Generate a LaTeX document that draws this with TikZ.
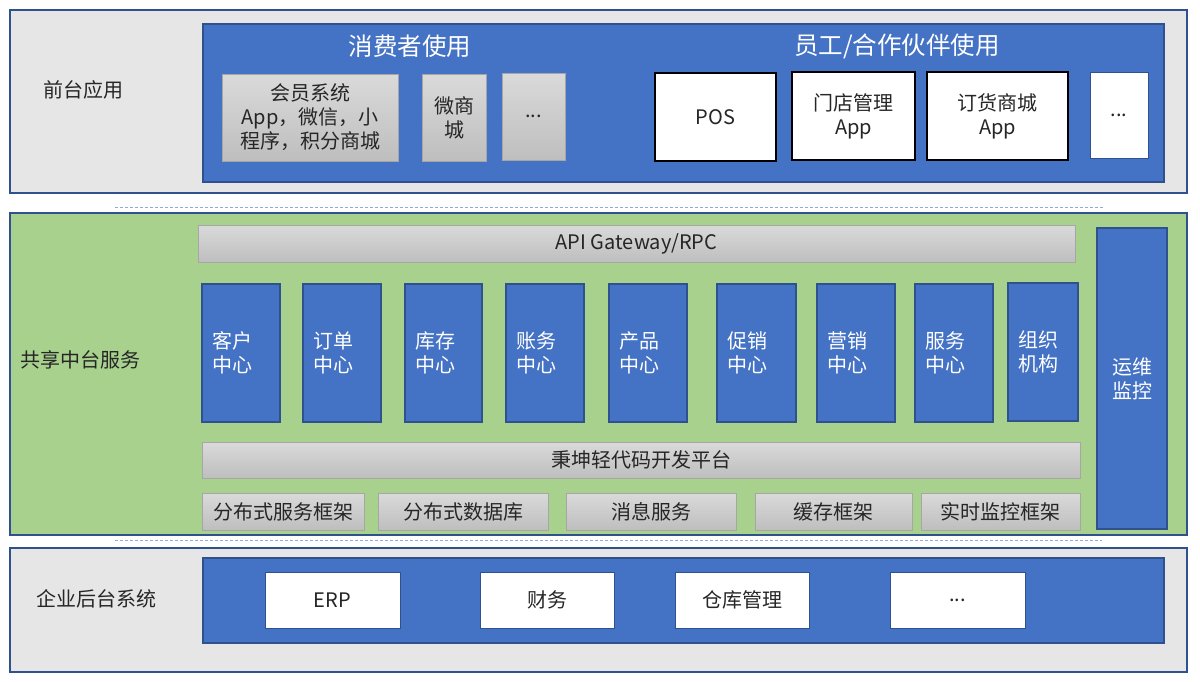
\documentclass[tikz,border=0pt]{standalone}
\usepackage{fontspec}
\setmainfont{Noto Sans CJK SC}
\definecolor{blu}{HTML}{4472C4}
\definecolor{bord}{HTML}{2F528F}
\definecolor{lgray}{HTML}{E7E6E6}
\definecolor{grn}{HTML}{A9D18E}
\definecolor{dashc}{HTML}{8FAADC}
\definecolor{txt}{HTML}{262626}
\definecolor{gtop}{HTML}{DADADA}
\definecolor{gbot}{HTML}{BEBEBE}
\definecolor{gbord}{HTML}{A6A6A6}
\tikzset{
  every node/.style={inner sep=0pt, outer sep=0pt, anchor=north west, text=txt},
  fnt/.style={font=\fontsize{20}{24}\selectfont},
  panel/.style={draw=bord, line width=1.5pt},
  bluepanel/.style={fill=blu, draw=bord, line width=1.2pt},
  graybox/.style={fnt, top color=gtop, bottom color=gbot, draw=gbord, line width=1pt, align=center},
  whitebox/.style={fnt, fill=white, draw=black, line width=1.6pt, align=center},
  wbox/.style={fnt, fill=white, draw=bord, line width=1pt, align=center},
  svc/.style={fnt, fill=blu, draw=bord, line width=1.2pt, text=white, align=left, inner xsep=10pt, minimum height=138pt},
  title/.style={font=\fontsize{24.5}{28}\selectfont, text=white, anchor=center},
  lbl/.style={fnt, anchor=center},
  sep/.style={draw=dashc, line width=1pt, dash pattern=on 3pt off 2pt},
}
\begin{document}
\begin{tikzpicture}[x=1pt,y=-1pt]
\useasboundingbox (0,0) rectangle (1200,681);
% ---------- top layer ----------
\node[panel, fill=lgray, minimum width=1177pt, minimum height=183pt] (front) at (10,10) {};
\node[lbl] (frontlbl) at (83,90) {前台应用};
\node[bluepanel, minimum width=961pt, minimum height=158pt] (frontin) at (203,24) {};
\node[title] (cons) at (410,46) {消费者使用};
\node[title] (staff) at (897,46) {员工/合作伙伴使用};
\node[graybox, minimum width=176pt, minimum height=87pt] (member) at (222,74) {会员系统\\App，微信，小\\程序，积分商城};
\node[graybox, minimum width=64pt, minimum height=87pt] (wsc) at (422,74) {微商\\城};
\node[graybox, minimum width=63pt, minimum height=87pt] (more1) at (502,73) {...};
\node[whitebox, minimum width=121pt, minimum height=88pt] (pos) at (655,73) {POS};
\node[whitebox, minimum width=123pt, minimum height=88pt] (store) at (792,72) {门店管理\\App};
\node[whitebox, minimum width=141pt, minimum height=88pt] (order) at (927,72) {订货商城\\App};
\node[wbox, minimum width=58pt, minimum height=86pt] (more2) at (1090,72) {...};
% separator
\coordinate (s1a) at (115,207);
\coordinate (s1b) at (1103,207);
\draw[sep] (s1a) -- (s1b);
% ---------- middle layer ----------
\node[panel, fill=grn, minimum width=1177pt, minimum height=322pt] (mid) at (10,213) {};
\node[lbl] (midlbl) at (80,360) {共享中台服务};
\node[graybox, minimum width=877pt, minimum height=37pt] (api) at (198,225) {API Gateway/RPC};
\node[svc, text width=58pt] (c1) at (202,284) {客户\\中心};
\node[svc, text width=58pt] (c2) at (303,284) {订单\\中心};
\node[svc, text width=57pt] (c3) at (405,284) {库存\\中心};
\node[svc, text width=58pt] (c4) at (506,284) {账务\\中心};
\node[svc, text width=58pt] (c5) at (609,284) {产品\\中心};
\node[svc, text width=59pt] (c6) at (717,284) {促销\\中心};
\node[svc, text width=58pt] (c7) at (817,284) {营销\\中心};
\node[svc, text width=58pt] (c8) at (915,284) {服务\\中心};
\node[svc, text width=50pt, minimum height=138pt] (c9) at (1008,283) {组织\\机构};
\node[fnt, fill=blu, draw=bord, line width=1.2pt, text=white, align=center, minimum width=70pt, minimum height=301pt] (ops) at (1097,228) {运维\\监控};
\node[graybox, minimum width=878pt, minimum height=36pt] (lowcode) at (202,442) {秉坤轻代码开发平台};
\node[graybox, minimum width=162pt, minimum height=37pt] (b1) at (202,493) {分布式服务框架};
\node[graybox, minimum width=170pt, minimum height=37pt] (b2) at (378,493) {分布式数据库};
\node[graybox, minimum width=170pt, minimum height=37pt] (b3) at (566,493) {消息服务};
\node[graybox, minimum width=157pt, minimum height=37pt] (b4) at (755,493) {缓存框架};
\node[graybox, minimum width=159pt, minimum height=37pt] (b5) at (921,493) {实时监控框架};
% separator
\coordinate (s2a) at (115,540);
\coordinate (s2b) at (1102,540);
\draw[sep] (s2a) -- (s2b);
% ---------- bottom layer ----------
\node[panel, fill=lgray, minimum width=1177pt, minimum height=124pt] (back) at (10,548) {};
\node[lbl] (backlbl) at (96,599) {企业后台系统};
\node[bluepanel, minimum width=961pt, minimum height=85pt] (backin) at (203,558) {};
\node[wbox, minimum width=135pt, minimum height=56pt] (erp) at (265,572) {ERP};
\node[wbox, minimum width=134pt, minimum height=56pt] (fin) at (480,572) {财务};
\node[wbox, minimum width=134pt, minimum height=56pt] (wh) at (675,572) {仓库管理};
\node[wbox, minimum width=135pt, minimum height=56pt] (more3) at (890,572) {...};
\end{tikzpicture}
\end{document}
